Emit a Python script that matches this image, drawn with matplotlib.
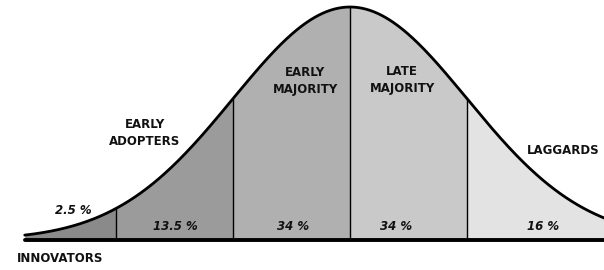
import numpy as np
import matplotlib.pyplot as plt

# adopter groups, boundaries in standard deviations from the mean
groups   = ['INNOVATORS', 'EARLY\nADOPTERS', 'EARLY\nMAJORITY', 'LATE\nMAJORITY', 'LAGGARDS']
shares   = ['2.5%', '13.5%', '34%', '34%', '16%']
bounds   = [-2.78, -2.0, -1.0, 0.0, 1.0, 2.2]
colors   = ['#8a8a8a', '#9b9b9b', '#b0b0b0', '#c9c9c9', '#e3e3e3']

# pixel -> data helpers (mean at px 350, sigma 117 px, baseline at 240, peak 233 px)
MU, SIG, BASE, H = 350.0, 117.0, 240.0, 233.0
def zx(px):
    return (px - MU) / SIG
def zy(py):
    return (BASE - py) / H

def bell(z):
    return np.exp(-0.5 * z**2)

fig = plt.figure(figsize=(6.04, 2.70), dpi=100)
ax = fig.add_axes([0, 0, 1, 1])
ax.set_xlim(zx(0), zx(604))
ax.set_ylim(zy(270), zy(0))
ax.axis('off')

# shaded segments
for i in range(len(groups)):
    z = np.linspace(bounds[i], bounds[i + 1], 200)
    ax.fill_between(z, 0, bell(z), color=colors[i], lw=0, zorder=1)

# dividers
for b in bounds[1:-1]:
    ax.plot([b, b], [0, bell(b)], color='black', lw=1.0, zorder=2)

# curve
zc = np.linspace(bounds[0], zx(610), 600)
ax.plot(zc, bell(zc), color='black', lw=2.0, solid_capstyle='round', zorder=3)

# baseline
ax.plot([zx(25), zx(610)], [0, 0], color='black', lw=2.8, solid_capstyle='round', zorder=4)

tkw = dict(va='center', fontsize=8.5, fontweight='bold', color='#111111',
           family='DejaVu Sans', linespacing=1.35, zorder=5)

# percentage labels
share_pos = [(73, 211), (175, 227), (293, 227), (396, 227), (543, 227)]
for s, (px, py) in zip(shares, share_pos):
    ax.text(zx(px), zy(py), s.replace('%', ' %'), ha='center', style='italic', **tkw)

# group labels
group_pos = [(60, 258), (145, 133), (305, 81), (402, 80), (527, 151)]
group_ha  = ['center', 'center', 'center', 'center', 'left']
for g, (px, py), ha in zip(groups, group_pos, group_ha):
    ax.text(zx(px), zy(py), g, ha=ha, **tkw)

fig.savefig('out.png', dpi=100)
